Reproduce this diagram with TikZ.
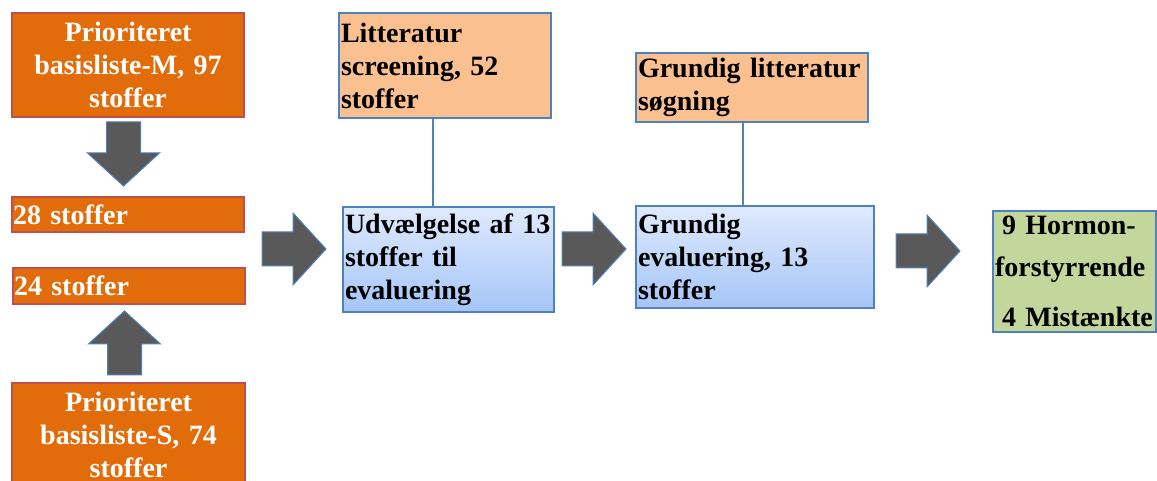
\documentclass[tikz,border=0pt]{standalone}
\usepackage{fontspec}
\setmainfont{Liberation Serif}
\usepackage{tikz}
\usetikzlibrary{positioning}
\definecolor{orangefill}{HTML}{E36C0A}
\definecolor{redline}{HTML}{C0504D}
\definecolor{blueline}{HTML}{4F81BD}
\definecolor{peach}{HTML}{FAC090}
\definecolor{paleblue}{HTML}{DFEAFD}
\definecolor{midblue}{HTML}{A5C5F7}
\definecolor{olivegreen}{HTML}{C3D69B}
\definecolor{arrowgray}{HTML}{595959}
\newcommand{\boxfont}{\fontsize{28}{33}\selectfont\bfseries}
\tikzset{
  listbox/.style={draw=redline, fill=orangefill, text=white, line width=1.2pt, font=\boxfont, inner sep=1pt, align=center},
  countbox/.style={listbox, align=left, minimum height=35pt},
  litbox/.style={draw=blueline, fill=peach, line width=1.5pt, font=\boxfont, inner xsep=2pt, inner ysep=1pt, align=left},
  evalbox/.style={draw=blueline, top color=paleblue, bottom color=midblue, line width=1.5pt, font=\boxfont, inner xsep=2pt, inner ysep=1pt, align=left},
  resultbox/.style={draw=blueline, fill=olivegreen, line width=1.5pt, font=\boxfont, inner xsep=2pt, inner ysep=1pt, align=left},
  conn/.style={draw=blueline, line width=1.5pt},
  fatarrow/.pic={\filldraw[fill=arrowgray, draw=blueline, line width=1pt] (0,-17) -- (31,-17) -- (31,-36) -- (64,0) -- (31,36) -- (31,17) -- (0,17) -- cycle;}
}

\begin{document}
\begin{tikzpicture}[x=1pt, y=1pt]
  \useasboundingbox (0,0) rectangle (1157,481);
  \clip (0,0) rectangle (1157,481);

  % left column
  \node[listbox, text width=230pt, minimum height=104pt] (basisM) at (128,416) {Prioriteret\\basisliste-M, 97\\stoffer};
  \node[countbox, text width=230pt] (s28) at (128,266.5) {28 stoffer};
  \node[countbox, text width=230pt, minimum height=36pt] (s24) at (129,195) {24 stoffer};
  \node[listbox, text width=231pt, minimum height=104pt] (basisS) at (128.5,46) {Prioriteret\\basisliste-S, 74\\stoffer};
  \pic[rotate=-90] at (123.5,359) {fatarrow};
  \pic[rotate=90] at (124.5,106) {fatarrow};

  % screening and evaluation
  \node[litbox, text width=208pt, minimum height=105pt] (screen) at (445,415.5) {Litteratur\\screening, 52\\stoffer};
  \node[evalbox, text width=207pt, minimum height=105pt] (select) at (448.5,221.5) {Udvælgelse af 13\\stoffer til\\evaluering};
  \node[litbox, text width=228pt, minimum height=69pt] (search) at (752,393.5) {Grundig litteratur\\søgning};
  \node[evalbox, text width=234pt, minimum height=102pt] (thorough) at (755,224) {Grundig\\evaluering, 13\\stoffer};
  \node[resultbox, text width=159pt, minimum height=121pt] (result) at (1074.5,209.5) {\hspace*{7pt}9 Hormon-\\[9pt]forstyrrende\\[17pt]\hspace*{7pt}4 Mistænkte};

  \draw[conn] ([xshift=-12pt]screen.south) -- ([xshift=-12pt]screen.south |- select.north);
  \draw[conn] ([xshift=-9pt]search.south) -- ([xshift=-9pt]search.south |- thorough.north);

  \pic at (262,232) {fatarrow};
  \pic at (562,232) {fatarrow};
  \pic at (896,230) {fatarrow};
\end{tikzpicture}
\end{document}
